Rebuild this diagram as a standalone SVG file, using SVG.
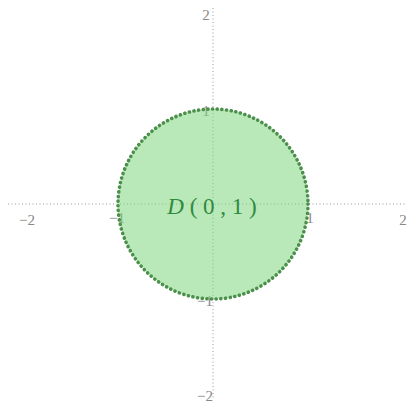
<svg xmlns="http://www.w3.org/2000/svg" width="410" height="408" viewBox="0 0 410 408">
<style>
.axis{stroke:#999;stroke-width:1;stroke-dasharray:1 2.5;fill:none}
.tick{font-family:"Liberation Serif",serif;font-size:15px;fill:#888}
.lbl{font-family:"Liberation Serif",serif;font-size:23px;fill:#2e8b3e}
</style>
<rect width="410" height="408" fill="#fff"/>
<g id="axes">
<line class="axis" x1="8" y1="204" x2="405" y2="204"/>
<line class="axis" x1="213" y1="8" x2="213" y2="400"/>
<text class="tick" x="27" y="225" text-anchor="middle">−2</text>
<text class="tick" x="117" y="223" text-anchor="middle">−1</text>
<text class="tick" x="310" y="223" text-anchor="middle">1</text>
<text class="tick" x="403" y="225" text-anchor="middle">2</text>
<text class="tick" x="206" y="20" text-anchor="middle">2</text>
<text class="tick" x="206" y="116" text-anchor="middle">1</text>
<text class="tick" x="205" y="306" text-anchor="middle">−1</text>
<text class="tick" x="205" y="401" text-anchor="middle">−2</text>
</g>
<g id="disk">
<circle cx="213" cy="204" r="95" fill="#7fd67f" fill-opacity="0.55" stroke="#4a8f4a" stroke-width="3.6" stroke-linecap="round" stroke-dasharray="0.1 4.6"/>
<text class="lbl" x="212" y="214" text-anchor="middle"><tspan font-style="italic">D</tspan> ( 0 , 1 )</text>
</g>
</svg>
